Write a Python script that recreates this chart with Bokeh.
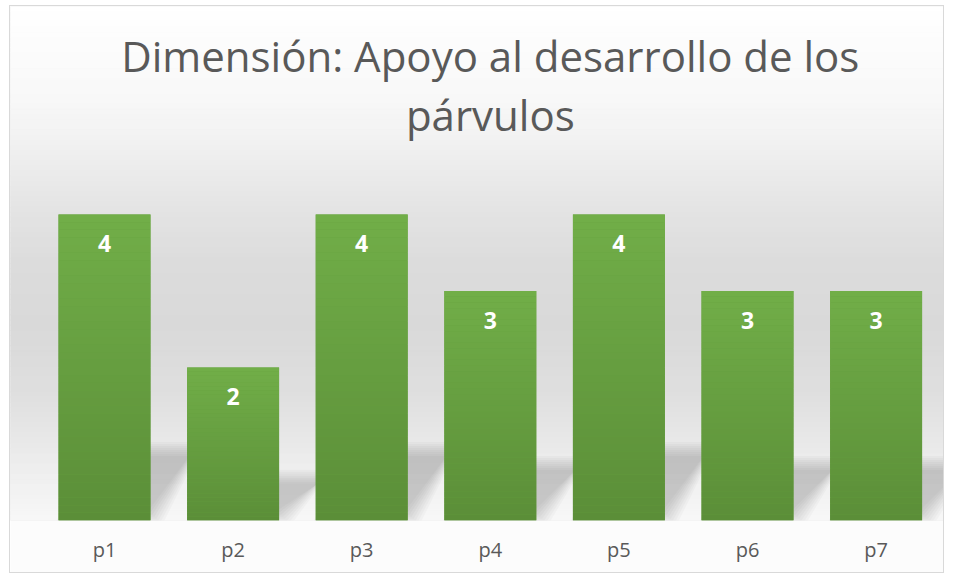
from bokeh.plotting import figure
from bokeh.models import Range1d, FixedTicker, Label, LabelSet, ColumnDataSource
from bokeh.core.properties import value
from bokeh.embed import file_html
from bokeh.resources import INLINE

# ---- data ----
categories = ["p1", "p2", "p3", "p4", "p5", "p6", "p7"]
values = [4, 2, 4, 3, 4, 3, 3]
title_lines = ["Dimensión: Apoyo al desarrollo de los", "párvulos"]

# ---- geometry / style ----
W, H = 935, 568
PX_X = 128.6          # px per category
PX_Y = 76.5           # px per unit
FRAME_H = 514
x_start = 1 + (11 - 105) / PX_X
x_end = x_start + W / PX_X
y_end = FRAME_H / PX_Y
BAR_W = 0.715

def mix(c0, c1, t):
    return "#%02x%02x%02x" % tuple(int(round(a + (b - a) * t)) for a, b in zip(c0, c1))

p = figure(width=W, height=H, output_backend="svg", toolbar_location=None,
           x_range=Range1d(x_start, x_end), y_range=Range1d(0, y_end),
           min_border_left=0, min_border_right=0, min_border_top=0,
           min_border_bottom=H - FRAME_H, y_axis_location=None)
p.outline_line_color = None
p.grid.visible = False
p.background_fill_color = "#e0e0e0"
p.border_fill_color = "#fcfcfc"
p.styles = {"border": "1px solid #d9d9d9", "margin-left": "9px", "margin-top": "5px"}

# ---- background gradient (frame) ----
stops = [(0.0, 255), (0.18, 248), (0.28, 240), (0.38, 229), (0.5, 220),
         (0.62, 217), (0.76, 223), (0.86, 234), (0.94, 242), (1.0, 247)]
def grey_at(f):
    for (f0, g0), (f1, g1) in zip(stops[:-1], stops[1:]):
        if f0 <= f <= f1:
            return g0 + (g1 - g0) * (f - f0) / (f1 - f0)
    return stops[-1][1]
n = 100
bg = dict(b=[], t=[], c=[])
for i in range(n):
    f0, f1 = i / n, (i + 1) / n
    g = int(round(grey_at((f0 + f1) / 2)))
    bg["t"].append(y_end * (1 - f0))
    bg["b"].append(y_end * (1 - f1))
    bg["c"].append("#%02x%02x%02x" % (g, g, g))
p.quad(left=x_start, right=x_end, bottom="b", top="t", fill_color="c",
       line_color="c", line_width=1, source=ColumnDataSource(bg))

# ---- soft shadows behind bars ----
xs = [i + 1 for i in range(len(categories))]
ex, ey = 1 / PX_X, 1 / PX_Y
sh_xs, sh_ys = [], []
layers = [8, 6, 4, 2, 0, -2, -4, -6]
for e in layers:
    for x, v in zip(xs, values):
        xl, xr = x - BAR_W / 2, x + BAR_W / 2
        hs = 0.18 * v + 0.2
        y0 = 0.05
        db, dt = 4 * ex, 45 * ex
        sh_xs.append([xl + db - e * ex, xr + db + e * ex, xr + dt + e * ex, xl + dt - e * ex])
        sh_ys.append([y0 - e * ey, y0 - e * ey, hs + e * ey, hs + e * ey])
p.patches(sh_xs, sh_ys, fill_color="black", fill_alpha=0.024, line_color=None)

# ---- bars with vertical gradient ----
p.vbar(x=xs, top=values, width=BAR_W, fill_color="#66a040", line_color=None)
top_c, bot_c = (113, 174, 72), (91, 142, 56)
seg = dict(l=[], r=[], b=[], t=[], c=[])
m = 40
for x, v in zip(xs, values):
    for k in range(m):
        f0, f1 = k / m, (k + 1) / m
        seg["l"].append(x - BAR_W / 2)
        seg["r"].append(x + BAR_W / 2)
        seg["t"].append(v * (1 - f0))
        seg["b"].append(v * (1 - f1))
        seg["c"].append(mix(top_c, bot_c, (f0 + f1) / 2))
p.quad(left="l", right="r", bottom="b", top="t", fill_color="c", line_color=None,
       source=ColumnDataSource(seg))

# ---- data labels ----
lab_src = ColumnDataSource(dict(x=xs, top=values, label=[str(v) for v in values]))
p.add_layout(LabelSet(x="x", y="top", text="label", source=lab_src, y_offset=-29,
                      text_align="center", text_baseline="middle",
                      text_color="white", text_font_style="bold",
                      text_font_size="23px", text_font=value("Open Sans")))

# ---- title (two lines) ----
mid = (xs[0] + xs[-1]) / 2
for line, base in zip(title_lines, [72 - 16, 131 - 16]):
    p.add_layout(Label(x=mid, y=(521 - base) / PX_Y, text=line, text_align="center",
                       text_baseline="alphabetic", text_font="Open Sans",
                       text_font_size="42px", text_color="#595959"))

# ---- x axis ----
ax = p.xaxis[0]
ax.ticker = FixedTicker(ticks=xs)
ax.major_label_overrides = {x: c for x, c in zip(xs, categories)}
ax.axis_line_color = None
ax.major_tick_line_color = None
ax.minor_tick_line_color = None
ax.major_label_text_font = "Open Sans"
ax.major_label_text_font_size = "20px"
ax.major_label_text_color = "#595959"
ax.major_label_standoff = 9

open("out.html", "w").write(file_html(p, INLINE))
